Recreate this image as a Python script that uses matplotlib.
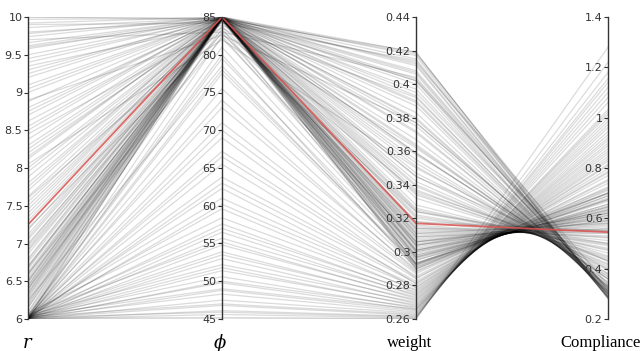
import numpy as np
import matplotlib
matplotlib.use("Agg")
import matplotlib.pyplot as plt

# design samples: r, phi, weight, compliance (one row per line)
r_vals = [
    # small radius, phi spread out
    6.00, 6.01, 6.00, 6.02, 6.00, 6.01, 6.03, 6.00, 6.02, 6.00, 6.04, 6.01, 6.00, 6.03, 6.00, 6.02,
    6.05, 6.00, 6.01, 6.03, 6.00, 6.06, 6.02, 6.00, 6.04, 6.01, 6.08, 6.03, 6.00, 6.05, 6.02, 6.00,
    6.00, 6.00, 6.01, 6.00, 6.02, 6.00, 6.01, 6.03, 6.00, 6.02, 6.00, 6.01, 6.04, 6.00, 6.02,
    # phi near 85
    6.00, 6.02, 6.05, 6.10, 6.15, 6.20, 6.25, 6.28, 6.32, 6.35, 6.38, 6.42, 6.45, 6.48, 6.52, 6.55,
    6.58, 6.62, 6.66, 6.70, 6.75, 6.80, 6.86, 6.92, 6.98, 7.05, 7.12, 7.30, 7.40, 7.50, 7.62, 7.75,
    7.88, 8.00, 8.12, 8.25, 8.38, 8.50, 8.62, 8.75, 8.88, 9.00, 9.10, 9.20, 9.30, 9.40, 9.50, 9.58,
    9.66, 9.74, 9.80, 9.86, 9.92, 9.97, 10.0,
    6.08, 6.18, 6.22, 6.30, 6.34, 6.40, 6.44, 6.50, 6.60, 6.68, 6.78, 6.95, 7.08, 7.18, 7.35,
    7.55, 7.70, 7.95, 8.30, 8.55, 8.80, 9.05, 9.25, 9.45, 9.62, 9.78, 7.45, 8.15, 8.70, 10.0,
    # phi 78-84
    6.15, 6.40, 6.60, 6.90, 7.20, 7.60, 8.05, 8.45, 8.90, 9.35, 9.70, 9.90, 6.05, 6.25, 7.00, 6.70,
    8.20, 9.60, 6.50, 7.80,
]
phi_vals = [
    45.0, 45.2, 45.6, 45.9, 46.1, 46.8, 47.0, 47.5, 48.3, 48.8, 49.0, 49.8, 50.0, 50.6, 51.4, 51.8,
    52.2, 53.0, 53.5, 53.9, 54.8, 55.2, 55.7, 56.5, 57.0, 57.6, 58.4, 59.6, 60.2, 61.0, 62.3, 63.0,
    63.8, 65.5, 66.5, 67.2, 69.0, 70.0, 71.0, 73.0, 74.0, 75.5, 77.5, 78.0, 79.5, 81.0, 82.5,
    85.0, 84.8, 84.6, 85.0, 84.9, 84.7, 85.0, 84.8, 84.9, 85.0, 84.6, 84.9, 85.0, 84.7, 84.9, 85.0,
    84.8, 84.9, 85.0, 84.6, 84.9, 85.0, 84.8, 84.9, 85.0, 84.7, 84.9, 84.8, 85.0, 84.6, 84.9, 85.0,
    84.7, 84.9, 85.0, 84.8, 84.9, 85.0, 84.6, 84.9, 85.0, 84.8, 84.9, 85.0, 84.7, 84.9, 85.0, 84.8,
    84.9, 85.0, 84.6, 84.9, 85.0, 84.8, 85.0,
    84.9, 85.0, 84.8, 84.9, 85.0, 84.7, 84.9, 85.0, 84.8, 84.9, 85.0, 84.6, 84.9, 85.0, 84.8,
    84.9, 85.0, 84.8, 84.9, 85.0, 84.7, 84.9, 85.0, 84.8, 84.9, 85.0, 84.8, 84.9, 85.0, 84.7,
    83.5, 83.0, 82.2, 83.8, 82.8, 83.2, 82.0, 83.6, 82.6, 83.9, 83.0, 84.2, 80.0, 78.5, 84.3, 84.5,
    84.4, 84.6, 84.8, 84.7,
]
weight_vals = [
    0.2600, 0.2603, 0.2607, 0.2612, 0.2616, 0.2622, 0.2628, 0.2635, 0.2642, 0.2650, 0.2660, 0.2655,
    0.2672, 0.2665, 0.2685, 0.2678, 0.2700, 0.2692, 0.2715, 0.2708, 0.2730, 0.2722, 0.2745, 0.2738,
    0.2760, 0.2752, 0.2775, 0.2768, 0.2790, 0.2800, 0.2785, 0.2815, 0.2825, 0.2810, 0.2840, 0.2855,
    0.2845, 0.2870, 0.2880, 0.2895, 0.2885, 0.2910, 0.2925, 0.2935, 0.2950, 0.2965, 0.2980,
    0.290, 0.291, 0.292, 0.293, 0.295, 0.297, 0.298, 0.299, 0.300, 0.301, 0.302, 0.304, 0.305, 0.306,
    0.307, 0.308, 0.309, 0.310, 0.311, 0.313, 0.314, 0.316, 0.318, 0.320, 0.322, 0.324, 0.326, 0.332,
    0.335, 0.339, 0.342, 0.347, 0.351, 0.355, 0.359, 0.363, 0.367, 0.371, 0.375, 0.379, 0.383, 0.387,
    0.390, 0.393, 0.397, 0.400, 0.403, 0.406, 0.408, 0.411, 0.413, 0.415, 0.417, 0.418, 0.419,
    0.293, 0.296, 0.297, 0.300, 0.301, 0.303, 0.304, 0.306, 0.309, 0.312, 0.315, 0.321, 0.325, 0.328,
    0.334,
    0.340, 0.345, 0.353, 0.364, 0.372, 0.380, 0.389, 0.395, 0.402, 0.407, 0.412, 0.337, 0.359, 0.377,
    0.419,
    0.293, 0.301, 0.306, 0.314, 0.324, 0.336, 0.350, 0.362, 0.377, 0.392, 0.404, 0.414, 0.290, 0.292,
    0.318, 0.311, 0.358, 0.402, 0.304, 0.345,
]
compliance_vals = [
    1.280, 1.220, 1.180, 1.155, 1.140, 1.120, 1.100, 1.080, 1.060, 1.032, 1.012, 1.022, 0.985, 0.998,
    0.960, 0.972, 0.932, 0.945, 0.910, 0.920, 0.888, 0.898, 0.866, 0.876, 0.845, 0.856, 0.827, 0.835,
    0.809, 0.797, 0.815, 0.781, 0.770, 0.786, 0.754, 0.739, 0.749, 0.725, 0.716, 0.702, 0.711, 0.689,
    0.676, 0.668, 0.656, 0.645, 0.634,
    0.698, 0.690, 0.681, 0.673, 0.656, 0.645, 0.634, 0.626, 0.619, 0.612, 0.606, 0.593, 0.589, 0.583,
    0.573, 0.567, 0.560, 0.554, 0.548, 0.539, 0.530, 0.522, 0.512, 0.501, 0.491, 0.481, 0.472, 0.446,
    0.434, 0.420, 0.408, 0.393, 0.379, 0.368, 0.358, 0.348, 0.338, 0.329, 0.322, 0.314, 0.308, 0.302,
    0.305, 0.298, 0.312, 0.290, 0.320, 0.286, 0.300, 0.284, 0.335, 0.292, 0.281, 0.310, 0.288,
    0.675, 0.649, 0.640, 0.622, 0.612, 0.600, 0.591, 0.578, 0.558, 0.542, 0.525, 0.496, 0.476, 0.462,
    0.440,
    0.415, 0.398, 0.372, 0.345, 0.326, 0.311, 0.302, 0.318, 0.289, 0.296, 0.283, 0.430, 0.360, 0.330,
    0.281,
    0.700, 0.630, 0.600, 0.550, 0.500, 0.450, 0.400, 0.360, 0.330, 0.310, 0.300, 0.290, 0.720, 0.700,
    0.550, 0.580, 0.380, 0.320, 0.620, 0.430,
]

# selected design (red)
highlight = [7.25, 85.0, 0.317, 0.545]

dim_names = ["r", "ϕ", "weight", "Compliance"]
dim_ranges = [(6, 10), (45, 85), (0.26, 0.44), (0.2, 1.4)]
dim_ticks = [
    [6, 6.5, 7, 7.5, 8, 8.5, 9, 9.5, 10],
    [45, 50, 55, 60, 65, 70, 75, 80, 85],
    [0.26, 0.28, 0.30, 0.32, 0.34, 0.36, 0.38, 0.40, 0.42, 0.44],
    [0.2, 0.4, 0.6, 0.8, 1.0, 1.2, 1.4],
]
dim_ticklabels = [
    ["6", "6.5", "7", "7.5", "8", "8.5", "9", "9.5", "10"],
    ["45", "50", "55", "60", "65", "70", "75", "80", "85"],
    ["0.26", "0.28", "0.3", "0.32", "0.34", "0.36", "0.38", "0.4", "0.42", "0.44"],
    ["0.2", "0.4", "0.6", "0.8", "1", "1.2", "1.4"],
]

W, H = 640, 351
x_pix = [28, 222, 416, 608]
top_pix, bot_pix = 17, 319

fig = plt.figure(figsize=(W / 100, H / 100), dpi=100)
bottom = (H - bot_pix) / H
height = (bot_pix - top_pix) / H

main = fig.add_axes([x_pix[0] / W, bottom, (x_pix[-1] - x_pix[0]) / W, height])
main.set_xlim(x_pix[0], x_pix[-1])
main.set_ylim(0, 1)
main.axis("off")


def norm(vals):
    return [(v - lo) / (hi - lo) for v, (lo, hi) in zip(vals, dim_ranges)]


data = np.array([r_vals, phi_vals, weight_vals, compliance_vals]).T
for row in data:
    main.plot(x_pix, norm(row), color="black", alpha=0.14, lw=0.9)

main.plot(x_pix, norm(highlight), color="#d9534f", alpha=0.85, lw=1.3, zorder=5)

# one vertical axis per dimension
for i in range(4):
    ax = fig.add_axes([x_pix[i] / W, bottom, 0.0001, height])
    ax.patch.set_alpha(0)
    for s in ["top", "right", "bottom"]:
        ax.spines[s].set_visible(False)
    ax.spines["left"].set_color("#333333")
    ax.spines["left"].set_linewidth(1.0)
    ax.set_ylim(*dim_ranges[i])
    ax.set_yticks(dim_ticks[i])
    ax.set_yticklabels(dim_ticklabels[i])
    ax.set_xticks([])
    ax.tick_params(axis="y", direction="out", length=3, width=0.8, colors="#333333",
                   labelsize=8, pad=1)

label_x = [27, 220, 410, 601]
for i, name in enumerate(dim_names):
    if i < 2:
        fig.text(label_x[i] / W, 1 - 343 / H, name, ha="center", va="center",
                 fontsize=13, family="DejaVu Serif", style="italic")
    else:
        fig.text(label_x[i] / W, 1 - 343 / H, name, ha="center", va="center",
                 fontsize=12, family="Liberation Serif")

fig.savefig("out.png", dpi=100)
